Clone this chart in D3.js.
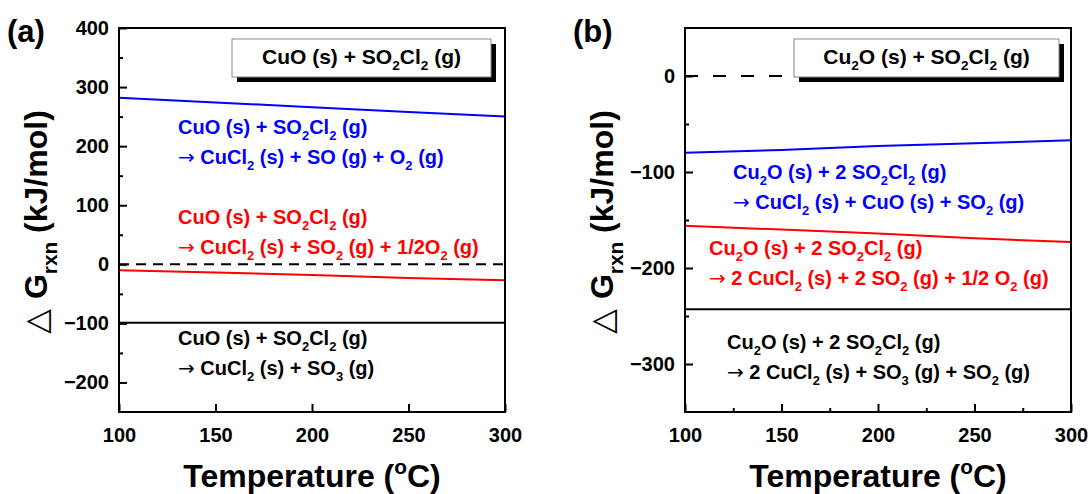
<!DOCTYPE html>
<html>
<head>
<meta charset="utf-8">
<script src="https://cdn.jsdelivr.net/npm/d3@7"></script>
<style>
  body { margin: 0; background: #fff; }
  svg text { font-family: "Liberation Sans", Arial, sans-serif; white-space: pre; }
</style>
</head>
<body>
<div id="chart-area"></div>
<script>
// reaction Gibbs energy vs temperature, two panels
var temps = [100, 150, 200, 250, 300];

// panel (a) CuO + SO2Cl2
var aBlue  = [282, 274, 266, 258, 250];
var aRed   = [-10, -14, -18, -23, -27];
var aBlack = [-99, -99, -99, -99, -99];

// panel (b) Cu2O + SO2Cl2
var bBlue  = [-80, -77, -73, -70, -67];
var bRed   = [-156, -160, -164, -169, -173];
var bBlack = [-243, -243, -243, -243, -243];

var xTicks = [100, 150, 200, 250, 300];
var aYTicks = [-200, -100, 0, 100, 200, 300, 400];
var bYTicks = [-300, -200, -100, 0];

// text: _x / _{..} subscript, ^x superscript
var aTitle = "CuO (s) + SO_2Cl_2 (g)";
var aNotes = [
  ["CuO (s) + SO_2Cl_2 (g)", "\u2192 CuCl_2 (s) + SO (g) + O_2 (g)"],
  ["CuO (s) + SO_2Cl_2 (g)", "\u2192 CuCl_2 (s) + SO_2 (g) + 1/2O_2 (g)"],
  ["CuO (s) + SO_2Cl_2 (g)", "\u2192 CuCl_2 (s) + SO_3 (g)"]
];
var bTitle = "Cu_2O (s) + SO_2Cl_2 (g)";
var bNotes = [
  ["Cu_2O (s) + 2 SO_2Cl_2 (g)", "\u2192 CuCl_2 (s) + CuO (s) + SO_2 (g)"],
  ["Cu_2O (s) + 2 SO_2Cl_2 (g)", "\u2192 2 CuCl_2 (s) + 2 SO_2 (g) + 1/2 O_2 (g)"],
  ["Cu_2O (s) + 2 SO_2Cl_2 (g)", "\u2192 2 CuCl_2 (s) + SO_3 (g) + SO_2 (g)"]
];

var W = 1091, H = 494;
var plotTop = 28, plotBottom = 412, plotW = 386;

var svg = d3.select("#chart-area").append("svg")
  .attr("width", W)
  .attr("height", H);

function rich(textSel, str, size) {
  var re = /([_^])(\{[^}]*\}|.)/g, last = 0, m, shift = 0;
  function put(t, dy, fs) {
    // arrow drawn with a thin font, like the original
    if (t.charAt(0) == "\u2192") {
      textSel.append("tspan").attr("dy", dy).attr("font-size", fs)
        .attr("font-family", "DejaVu Sans").attr("font-weight", "normal").text("\u2192");
      t = t.slice(1); dy = 0;
    }
    textSel.append("tspan").attr("dy", dy).attr("font-size", fs).text(t);
  }
  while ((m = re.exec(str)) !== null) {
    if (m.index > last) { put(str.slice(last, m.index), -shift, size); shift = 0; }
    var t = m[2].charAt(0) == "{" ? m[2].slice(1, -1) : m[2];
    var d = m[1] == "_" ? size * 0.3 : -size * 0.4;
    put(t, d - shift, size * 0.65);
    shift = d;
    last = re.lastIndex;
  }
  if (last < str.length) put(str.slice(last), -shift, size);
}

function drawPanel(p) {
  var g = svg.append("g");
  var x = d3.scaleLinear().domain([100, 300]).range([p.left, p.left + plotW]);
  var y = d3.scaleLinear().domain(p.yDomain).range([plotBottom, plotTop]);

  // zero reference
  g.append("line")
    .attr("x1", x(100)).attr("x2", x(300))
    .attr("y1", y(0)).attr("y2", y(0))
    .attr("stroke", "#000").attr("stroke-width", 2)
    .attr("stroke-dasharray", p.dash);

  var line = d3.line()
    .x(function(d, i) { return x(temps[i]); })
    .y(function(d) { return y(d); });

  p.series.forEach(function(s) {
    g.append("path")
      .attr("d", line(s.values))
      .attr("fill", "none")
      .attr("stroke", s.color)
      .attr("stroke-width", 2);
  });

  // axes, ticks inward
  g.append("g").attr("transform", "translate(" + p.left + ",0)")
    .call(d3.axisLeft(y).tickValues(p.yTicks).tickSize(-8).tickPadding(10)
      .tickFormat(d3.format("d")));
  g.append("g").attr("transform", "translate(" + p.left + ",0)")
    .call(d3.axisLeft(y).tickValues(p.yMinor).tickSize(-4).tickFormat(""));
  g.append("g").attr("transform", "translate(0," + plotBottom + ")")
    .call(d3.axisBottom(x).tickValues(xTicks).tickSize(-8).tickPadding(16)
      .tickFormat(d3.format("d")));
  if (p.xMinor.length) {
    g.append("g").attr("transform", "translate(0," + plotBottom + ")")
      .call(d3.axisBottom(x).tickValues(p.xMinor).tickSize(-4).tickFormat(""));
  }
  g.selectAll(".domain").remove();
  g.selectAll(".tick line").attr("stroke", "#000").attr("stroke-width", 2);
  g.selectAll(".tick text")
    .attr("font-family", "Liberation Sans, Arial, sans-serif")
    .attr("font-weight", "bold").attr("font-size", 20).attr("fill", "#000");

  // frame
  g.append("rect")
    .attr("x", p.left).attr("y", plotTop)
    .attr("width", plotW).attr("height", plotBottom - plotTop)
    .attr("fill", "none").attr("stroke", "#000").attr("stroke-width", 2);

  // title box with shadow
  g.append("rect")
    .attr("x", p.box[0] + 5).attr("y", p.box[1] + 5)
    .attr("width", p.box[2]).attr("height", p.box[3])
    .attr("fill", "#000");
  g.append("rect")
    .attr("x", p.box[0]).attr("y", p.box[1])
    .attr("width", p.box[2]).attr("height", p.box[3])
    .attr("fill", "#fff").attr("stroke", "#888").attr("stroke-width", 1);
  var tt = g.append("text")
    .attr("x", p.box[0] + p.box[2] / 2).attr("y", p.box[1] + 25)
    .attr("text-anchor", "middle").attr("font-weight", "bold").attr("font-size", 21);
  rich(tt, p.title, 21);

  // reaction notes
  p.notes.forEach(function(n, i) {
    var pos = p.notePos[i];
    n.forEach(function(str, j) {
      var t = g.append("text")
        .attr("x", pos[0]).attr("y", pos[1] + j * 30)
        .attr("fill", p.series[i].color)
        .attr("font-weight", "bold").attr("font-size", 20);
      rich(t, str, 20);
    });
  });

  // axis titles
  var xt = g.append("text")
    .attr("x", p.left + plotW / 2).attr("y", 487)
    .attr("text-anchor", "middle").attr("font-weight", "bold").attr("font-size", 32);
  rich(xt, "Temperature (^oC)", 32);

  var yt = g.append("text")
    .attr("transform", "translate(" + (p.left - 72) + ",222) rotate(-90)")
    .attr("text-anchor", "middle").attr("font-weight", "bold").attr("font-size", 32);
  yt.append("tspan").attr("font-weight", "normal").attr("font-family", "DejaVu Sans").text("\u25B3 ");
  rich(yt, "G_{rxn} (kJ/mol)", 32);

  g.append("text")
    .attr("x", p.left - 112).attr("y", 42)
    .attr("font-weight", "bold").attr("font-size", 31)
    .text(p.tag);
}

drawPanel({
  tag: "(a)", left: 119, yDomain: [-250, 400],
  yTicks: aYTicks, yMinor: [-150, -50, 50, 150, 250, 350], xMinor: [],
  dash: "10,7",
  series: [
    { values: aBlue, color: "#0000ff" },
    { values: aRed, color: "#ff0000" },
    { values: aBlack, color: "#000" }
  ],
  title: aTitle, box: [232, 39, 259, 38],
  notes: aNotes, notePos: [[178, 134], [178, 224], [178, 345]]
});

drawPanel({
  tag: "(b)", left: 685, yDomain: [-350, 50],
  yTicks: bYTicks, yMinor: [-250, -150, -50], xMinor: [125, 175, 225, 275],
  dash: "13,15",
  series: [
    { values: bBlue, color: "#0000ff" },
    { values: bRed, color: "#ff0000" },
    { values: bBlack, color: "#000" }
  ],
  title: bTitle, box: [794, 39, 265, 38],
  notes: bNotes, notePos: [[733, 179], [709, 255], [727, 349]]
});
</script>
</body>
</html>
